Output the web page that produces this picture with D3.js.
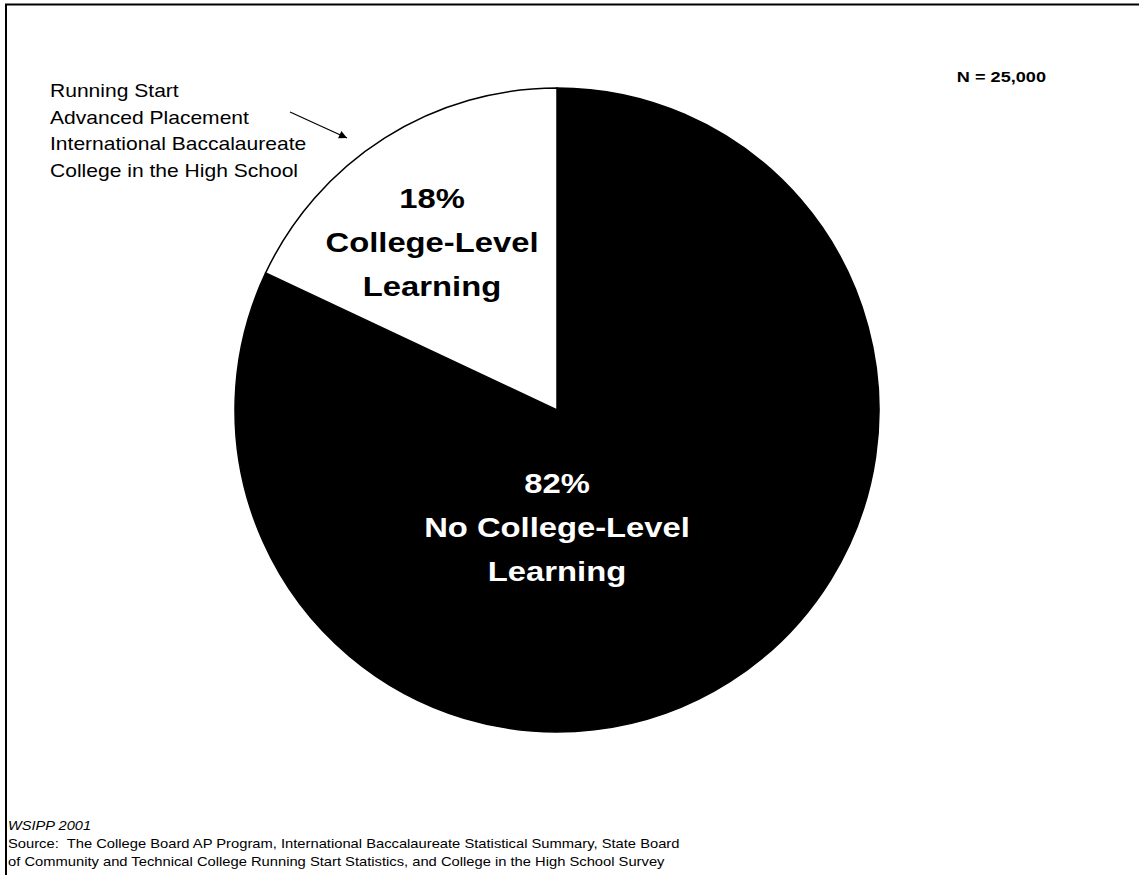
<!DOCTYPE html>
<html>
<head>
<meta charset="utf-8">
<script src="https://cdn.jsdelivr.net/npm/d3@7"></script>
<style>
  html, body { margin: 0; padding: 0; background: #fff; }
  svg { display: block; font-family: Arial, "Liberation Sans", sans-serif; }
  svg text { white-space: pre; }
</style>
</head>
<body>
<svg id="chart" width="1139" height="875"></svg>
<script>
// Share of students by college-level learning participation
const categories = ["No College-Level Learning", "College-Level Learning"];
const shares = [82, 18];
const sliceFill = ["#000000", "#ffffff"];
const sliceLabelLines = [
  ["82%", "No College-Level", "Learning"],
  ["18%", "College-Level", "Learning"]
];
const programs = ["Running Start", "Advanced Placement", "International Baccalaureate", "College in the High School"];
const sampleNote = "N = 25,000";
const footerLines = [
  "Source:  The College Board AP Program, International Baccalaureate Statistical Summary, State Board",
  "of Community and Technical College Running Start Statistics, and College in the High School Survey"
];
const creditLine = "WSIPP 2001";

const svg = d3.select("#chart");
const W = 1139, H = 875;
const sx = 1.17; // horizontal text stretch

// frame: top and left rules
svg.append("line").attr("x1", 5).attr("x2", W).attr("y1", 4.5).attr("y2", 4.5)
  .attr("stroke", "#000").attr("stroke-width", 2);
svg.append("line").attr("x1", 6).attr("x2", 6).attr("y1", 4).attr("y2", H)
  .attr("stroke", "#000").attr("stroke-width", 2);

// helper for stretched text anchored at (x, y)
function stretchedText(g, x, y, str, opts) {
  return g.append("text")
    .attr("transform", `translate(${x},${y}) scale(${sx},1)`)
    .attr("text-anchor", opts.anchor || "start")
    .attr("font-size", opts.size)
    .attr("font-weight", opts.weight || "normal")
    .attr("font-style", opts.style || "normal")
    .attr("fill", opts.fill || "#000")
    .text(str);
}

// pie
const cx = 557, cy = 410, R = 322;
const pie = d3.pie().sort(null).value(d => d)(shares);
const arc = d3.arc().innerRadius(0).outerRadius(R);
const pg = svg.append("g").attr("transform", `translate(${cx},${cy})`);
pg.selectAll("path.slice").data(pie).join("path")
  .attr("class", "slice")
  .attr("d", arc)
  .attr("fill", (d, i) => sliceFill[i])
  .attr("stroke", "#000")
  .attr("stroke-width", 1.5);

// slice labels
const labelPos = [
  { x: cx, y: 493 },
  { x: 432, y: 208 }
];
const lineGap = 44;
sliceLabelLines.forEach((lines, i) => {
  lines.forEach((ln, j) => {
    stretchedText(svg, labelPos[i].x, labelPos[i].y + j * lineGap, ln,
      { anchor: "middle", size: 28, weight: "bold", fill: i === 0 ? "#fff" : "#000" });
  });
});

// program list with arrow to the small slice
programs.forEach((p, j) => {
  stretchedText(svg, 50, 97 + j * 26.7, p, { size: 18 });
});
svg.append("defs").append("marker")
  .attr("id", "arrowhead").attr("viewBox", "0 0 10 10")
  .attr("refX", 10).attr("refY", 5)
  .attr("markerWidth", 10).attr("markerHeight", 8)
  .attr("markerUnits", "userSpaceOnUse")
  .attr("orient", "auto")
  .append("path").attr("d", "M0,0 L10,5 L0,10 Z").attr("fill", "#000");
svg.append("line")
  .attr("x1", 290).attr("y1", 112).attr("x2", 347).attr("y2", 138)
  .attr("stroke", "#000").attr("stroke-width", 1.2)
  .attr("marker-end", "url(#arrowhead)");

// sample size
stretchedText(svg, 1046, 82, sampleNote, { anchor: "end", size: 15.5, weight: "bold" });

// footer
stretchedText(svg, 8, 830, creditLine, { size: 12.5, style: "italic" });
footerLines.forEach((ln, j) => {
  stretchedText(svg, 8, 848 + j * 18, ln, { size: 12.6 });
});
</script>
</body>
</html>
